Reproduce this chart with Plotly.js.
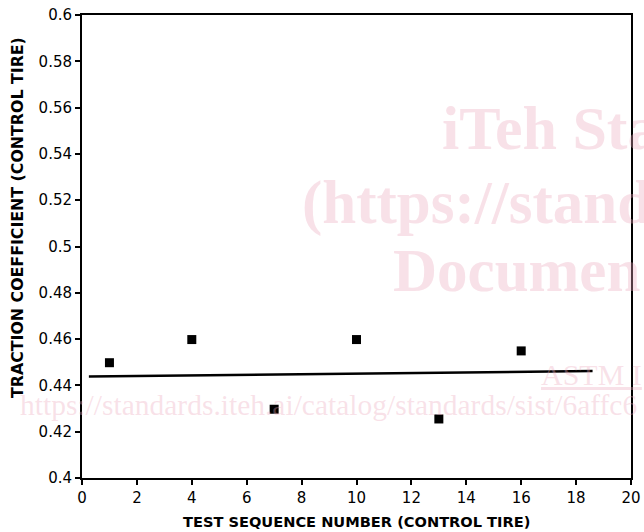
<!DOCTYPE html>
<html>
<head>
<meta charset="utf-8">
<script src="https://cdn.plot.ly/plotly-3.0.1.min.js"></script>
<style>html,body{margin:0;padding:0;background:#fff;}#chart{width:644px;height:532px;}</style>
</head>
<body>
<div id="chart"></div>
<script>
const testNumber = [1, 4, 7, 10, 13, 16];
const traction = [0.4498, 0.4598, 0.4297, 0.4598, 0.4255, 0.4549];
const fitX = [0.25, 18.6];
const fitY = [0.4438, 0.4462];
const xTitle = 'TEST SEQUENCE NUMBER (CONTROL TIRE)';
const yTitle = 'TRACTION COEFFICIENT (CONTROL TIRE)';

const wm = 'rgba(236,170,190,0.35)';
const wmFont = 'Liberation Serif, DejaVu Serif, serif';

const data = [
  {x: fitX, y: fitY, mode: 'lines', line: {color: '#000', width: 2.5}, showlegend: false, hoverinfo: 'skip'},
  {x: testNumber, y: traction, mode: 'markers', marker: {symbol: 'square', size: 9, color: '#000'}, showlegend: false}
];

function px2paperX(px){ return (px - 82) / 549; }
function px2paperY(py){ return (478 - py) / 463; }

const watermark = [
  {text: '<b>iTeh Sta</b>', x: 440, y: 128, size: 62},
  {text: '<b>(https://stand</b>', x: 300, y: 203, size: 61},
  {text: '<b>Documen</b>', x: 391, y: 270, size: 61},
  {text: '<u>ASTM I</u>', x: 539, y: 374, size: 30},
  {text: 'https://standards.iteh.ai/catalog/standards/sist/6affc6', x: 18, y: 405, size: 29.5}
].map(a => ({text: a.text, xref: 'paper', yref: 'paper', x: px2paperX(a.x), y: px2paperY(a.y),
  xanchor: 'left', yanchor: 'middle', showarrow: false,
  font: {family: wmFont, size: a.size, color: wm}}));

const titles = [
  {text: '<b>' + xTitle + '</b>', xref: 'paper', yref: 'paper', x: 0.5, y: px2paperY(521),
   xanchor: 'center', yanchor: 'middle', showarrow: false,
   font: {family: 'DejaVu Sans, Verdana, sans-serif', size: 14.6, color: '#000'}},
  {text: '<b>' + yTitle + '</b>', xref: 'paper', yref: 'paper', x: px2paperX(17), y: px2paperY(218),
   xanchor: 'center', yanchor: 'middle', showarrow: false, textangle: -90,
   font: {family: 'DejaVu Sans, Verdana, sans-serif', size: 15.8, color: '#000'}}
];

const layout = {
  width: 644, height: 532,
  margin: {l: 82, r: 13, t: 15, b: 54},
  paper_bgcolor: '#fff', plot_bgcolor: '#fff',
  font: {family: 'DejaVu Sans, Verdana, sans-serif', color: '#000'},
  xaxis: {
    range: [0, 20], dtick: 2, tick0: 0, showgrid: false, zeroline: false,
    showline: true, mirror: true, linecolor: '#000', linewidth: 2,
    ticks: 'outside', ticklen: 5, tickwidth: 2, tickcolor: '#000',
    tickfont: {size: 15, color: '#000'}
  },
  yaxis: {
    range: [0.4, 0.6], dtick: 0.02, tick0: 0.4, showgrid: false, zeroline: false,
    showline: true, mirror: true, linecolor: '#000', linewidth: 2,
    ticks: 'outside', ticklen: 5, tickwidth: 2, tickcolor: '#000',
    tickfont: {size: 15, color: '#000'}
  },
  annotations: watermark.concat(titles)
};

Plotly.newPlot('chart', data, layout, {displayModeBar: false, staticPlot: true});
</script>
</body>
</html>
